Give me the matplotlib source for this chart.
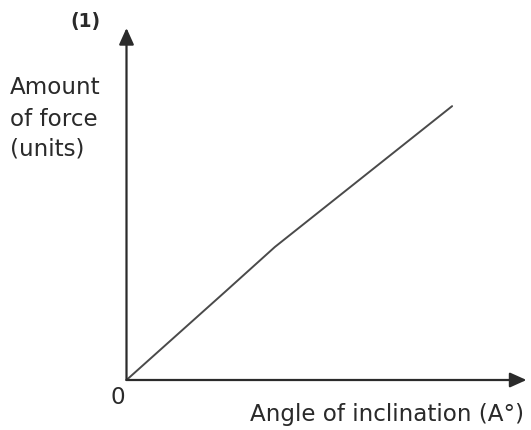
import matplotlib
matplotlib.use("Agg")
import matplotlib.pyplot as plt

# Force against angle of inclination (arbitrary units)
angle = [0, 24.6, 37.1, 81.4]
force = [0, 25.0, 37.8, 77.8]

W, H = 531, 430
fig = plt.figure(figsize=(W / 100, H / 100), dpi=100)
fig.patch.set_facecolor("white")

# axes origin sits at pixel (126.5, 380)
ax = fig.add_axes([126.5 / W, 50 / H, 400 / W, 352 / H])
ax.set_xlim(0, 100)
ax.set_ylim(0, 100)
ax.axis("off")

axis_color = "#2b2b2b"
arrow_kw = dict(arrowstyle="-|>,head_length=1.0,head_width=0.45",
                color=axis_color, lw=1.6, shrinkA=0, shrinkB=0,
                mutation_scale=10)
ax.annotate("", xy=(1, 0), xytext=(0, 0), xycoords="axes fraction",
            arrowprops=arrow_kw, annotation_clip=False)
ax.annotate("", xy=(0, 1), xytext=(0, 0), xycoords="axes fraction",
            arrowprops=arrow_kw, annotation_clip=False)

ax.plot(angle, force, color="#4a4a4a", lw=1.4, solid_capstyle="round",
        solid_joinstyle="round", clip_on=False)


def px(x, y):
    return x / W, 1 - y / H


txt = dict(color="#2a2a2a", family="DejaVu Sans")
fs = 16.6
fig.text(*px(70, 21), "(1)", fontsize=13.5, fontweight="bold",
         ha="left", va="center", **txt)
fig.text(*px(10, 94), "Amount", fontsize=fs, ha="left", va="baseline", **txt)
fig.text(*px(10, 126), "of force", fontsize=fs, ha="left", va="baseline", **txt)
fig.text(*px(10, 155), "(units)", fontsize=fs, ha="left", va="baseline", **txt)
fig.text(*px(117.5, 398), "0", fontsize=fs, ha="center", va="center", **txt)
fig.text(*px(250, 421), "Angle of inclination (A°)", fontsize=fs,
         ha="left", va="baseline", **txt)

fig.savefig("out.png", dpi=100, facecolor="white")
